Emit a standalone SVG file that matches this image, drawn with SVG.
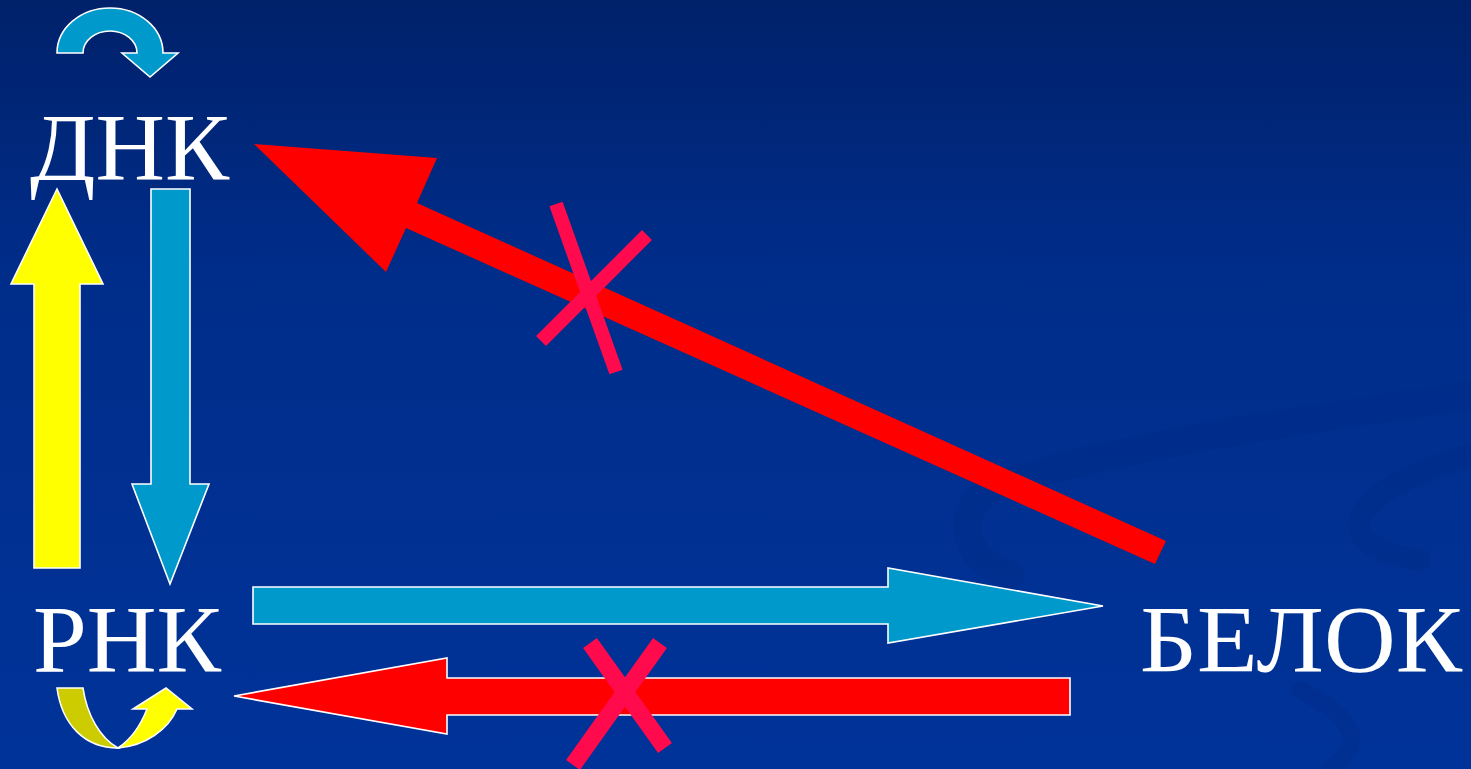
<svg xmlns="http://www.w3.org/2000/svg" width="1471" height="769" viewBox="0 0 1471 769">
  <defs>
    <linearGradient id="bg" x1="0" y1="0" x2="0" y2="1">
      <stop offset="0" stop-color="#00216a"/>
      <stop offset="0.35" stop-color="#002d8a"/>
      <stop offset="1" stop-color="#003399"/>
    </linearGradient>
  </defs>
  <style>
    .label { font-family: "Liberation Serif", "Times New Roman", serif; font-size: 95px; fill: #ffffff; }
    .out { stroke: #ffffff; stroke-width: 1.6; stroke-linejoin: miter; }
    .cyan { fill: #0099cc; }
    .yellow { fill: #ffff00; }
    .olive { fill: #cccc00; }
    .red { fill: #ff0000; }
    .cross { stroke: #ff0a4c; stroke-linecap: butt; fill: none; }
    .swirl { fill: none; stroke: #002a85; stroke-opacity: 0.3; stroke-linecap: round; }
  </style>
  <rect x="0" y="0" width="1471" height="769" fill="url(#bg)"/>
  <g id="background-swirls">
    <path class="swirl" stroke-width="28" d="M1471,395 C1300,420 1100,450 1000,485 C950,505 960,560 1010,575"/>
    <path class="swirl" stroke-width="22" d="M1471,455 C1420,470 1370,490 1360,520 C1355,540 1380,555 1420,560"/>
    <path class="swirl" stroke-width="18" d="M1300,690 C1350,715 1370,740 1330,769"/>
  </g>

  <g id="connectors">
    <path id="dna-replication" class="cyan out" d="M57,53 A53,45 0 0 1 163,53 L178,53 L150,77 L122,53 L137,53 A27,22 0 0 0 83,53 Z"/>
    <path id="rna-to-dna" class="yellow out" d="M34,568 L34,284 L11,284 L57,189 L103,284 L80,284 L80,568 Z"/>
    <path id="dna-to-rna" class="cyan out" d="M151,189 L190,189 L190,484 L209,484 L170,584 L132,484 L151,484 Z"/>
    <path id="rna-to-protein" class="cyan out" d="M253,587 L888,587 L888,568 L1103,606 L888,643 L888,624 L253,624 Z"/>
    <path id="protein-to-rna" class="red out" d="M1070,678 L447,678 L447,658 L234,696 L447,734 L447,715 L1070,715 Z"/>
    <line class="cross" stroke-width="17" x1="590" y1="643" x2="665" y2="748"/>
    <line class="cross" stroke-width="17" x1="660" y1="643" x2="573" y2="765"/>
    <path id="protein-to-dna" class="red" d="M254,144 L437,158 L417,203 L1166,541 L1155,564 L406,228 L386,272 Z"/>
    <line class="cross" stroke-width="14" x1="556" y1="204" x2="616" y2="372"/>
    <line class="cross" stroke-width="14" x1="647" y1="235" x2="541" y2="341"/>
    <g id="rna-replication">
      <path class="olive out" d="M57,688 L83,688 C87,715 100,738 118,748 C85,748 62,725 57,688 Z"/>
      <path class="yellow out" d="M118,748 C145,746 168,730 177,709 L192,709 L166,688 L133,709 L147,709 C140,727 130,740 118,748 Z"/>
    </g>
  </g>

  <g id="node-dna">
    <text class="label" x="30" y="180" textLength="199" lengthAdjust="spacingAndGlyphs">ДНК</text>
  </g>
  <g id="node-rna">
    <text class="label" x="33" y="672" textLength="188" lengthAdjust="spacingAndGlyphs">РНК</text>
  </g>
  <g id="node-protein">
    <text class="label" x="1140" y="672" textLength="322" lengthAdjust="spacingAndGlyphs">БЕЛОК</text>
  </g>
</svg>
